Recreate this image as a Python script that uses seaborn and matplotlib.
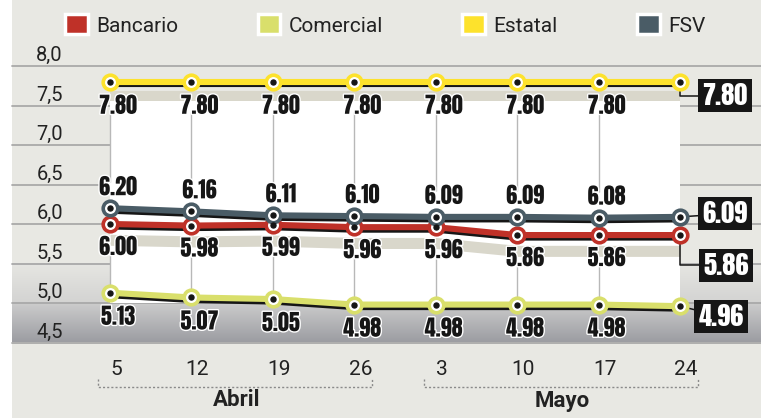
import matplotlib
matplotlib.use('Agg')
import matplotlib.pyplot as plt
import matplotlib.patheffects as pe
from matplotlib.patches import Patch
from matplotlib.colors import to_rgb
from matplotlib.transforms import ScaledTranslation
import numpy as np
import pandas as pd
import seaborn as sns

# Datos (tasas por semana)
dias = ['5', '12', '19', '26', '3', '10', '17', '24']
meses = ['Abril', 'Mayo']
semanas_por_mes = [4, 4]
bancario = [6.00, 5.98, 5.99, 5.96, 5.96, 5.86, 5.86, 5.86]
comercial = [5.13, 5.07, 5.05, 4.98, 4.98, 4.98, 4.98, 4.96]
estatal = [7.80, 7.80, 7.80, 7.80, 7.80, 7.80, 7.80, 7.80]
fsv = [6.20, 6.16, 6.11, 6.10, 6.09, 6.09, 6.08, 6.09]
series = ['Bancario', 'Comercial', 'Estatal', 'FSV']
eje_y = [8.0, 7.5, 7.0, 6.5, 6.0, 5.5, 5.0, 4.5]
eje_y_txt = ['8,0', '7,5', '7,0', '6,5', '6,0', '5,5', '5,0', '4,5']

colores = {'Bancario': '#bf3128', 'Comercial': '#d9df6b',
           'Estatal': '#fde22c', 'FSV': '#4a5c66'}
BG = '#e8e8e3'
NEGRO = '#161616'
GRIS_TXT = '#222222'

sns.set_style('white')
plt.rcParams['font.family'] = ['Roboto', 'DejaVu Sans']
CIFRAS = ['Anton', 'DejaVu Sans']

# escala en pixeles de la figura
W, H = 761, 418
X0, DX = 110, 81.43
Y8, DY = 66, 79
xlim = (-X0 / DX, (W - X0) / DX)
ylim = (8 - (H - Y8) / DY, 8 + Y8 / DY)
x_borde = (12 - X0) / DX

df = pd.DataFrame({
    'x': list(range(len(dias))) * 4,
    'valor': bancario + comercial + estatal + fsv,
    'serie': np.repeat(series, len(dias)),
})
x = np.arange(len(dias))
valores = {'Bancario': np.array(bancario), 'Comercial': np.array(comercial),
           'Estatal': np.array(estatal), 'FSV': np.array(fsv)}

fig = plt.figure(figsize=(W / 100, H / 100), dpi=100, facecolor=BG)
ax = fig.add_axes([0, 0, 1, 1])
ax.set_facecolor(BG)

# franja blanca izquierda
ax.axvspan(xlim[0], x_borde, color='white', lw=0, zorder=1)


def gradiente(y_top, y_bot, c_top, c_bot):
    arr = np.linspace(to_rgb(c_top), to_rgb(c_bot), 60)[:, None, :]
    ax.imshow(arr, extent=(x_borde, xlim[1], y_bot, y_top), aspect='auto',
              zorder=1, interpolation='bilinear')


gradiente(5.5, 5.0, '#e6e6e2', '#d3d3d2')
gradiente(5.0, 4.5, '#cdcdcd', '#9c9da2')

for y in eje_y:
    ax.axhline(y, xmin=12 / W, xmax=1, color='#a9a9a9', lw=1.3, zorder=2)

# panel blanco y sombras beige
ax.fill_between(x, 5.0, valores['Estatal'] - 0.24, color='white', lw=0, zorder=3)
ax.fill_between(x, valores['Estatal'] - 0.12, valores['Estatal'] - 0.24,
                color='#d9d7cb', lw=0, zorder=4)
ax.fill_between(x, valores['Bancario'] - 0.13, valores['Bancario'] - 0.27,
                color='#d9d7cb', lw=0, zorder=4)

# lineas verticales guia
ax.vlines(x[:-1], valores['FSV'][:-1] + 0.33, valores['Estatal'][:-1] - 0.38,
          color='#b8b8b8', lw=1, zorder=5)
ax.vlines(x[:-1], valores['Comercial'][:-1] + 0.1, valores['Bancario'][:-1] - 0.37,
          color='#b8b8b8', lw=1, zorder=5)

# sombra negra de las lineas
sombra = ax.transData + ScaledTranslation(0, -2.5 / 100, fig.dpi_scale_trans)
for s in series:
    ax.plot(x, valores[s], color=NEGRO, lw=4.4, transform=sombra, zorder=6,
            solid_capstyle='butt')

sns.lineplot(data=df, x='x', y='valor', hue='serie', palette=colores,
             linewidth=4.4, legend=False, ax=ax, zorder=7, sort=False)

for s in series:
    ax.plot(x, valores[s], 'o', ms=10.5, mfc='white', mec=colores[s], mew=2.6, zorder=8)
    ax.plot(x, valores[s], 'o', ms=3.6, color=NEGRO, zorder=9)

# etiquetas de valores
desplaz = {'Bancario': -23, 'Comercial': -24, 'Estatal': -24, 'FSV': 21}
halo = [pe.withStroke(linewidth=2, foreground='white')]
for s in series:
    for i, v in enumerate(valores[s][:-1]):
        ax.annotate(f'{v:.2f}', (i, v), xytext=(8, desplaz[s]),
                    textcoords='offset pixels', ha='center', va='center',
                    fontsize=16, family=CIFRAS, color=NEGRO,
                    path_effects=halo, zorder=10)

# cajas con el ultimo valor
cajas = {'Estatal': ((45, -14), 'angle,angleA=0,angleB=90,rad=0'),
         'FSV': ((45, 3), 'arc3'),
         'Bancario': ((46, -30), 'angle,angleA=0,angleB=90,rad=0'),
         'Comercial': ((41, -10), 'arc3')}
ult = len(dias) - 1
for s, (off, con) in cajas.items():
    v = valores[s][ult]
    ax.annotate(f'{v:.2f}', (ult, v), xytext=off, textcoords='offset pixels',
                ha='center', va='center', fontsize=19, family=CIFRAS,
                color='white',
                bbox=dict(boxstyle='square,pad=0.15', fc=NEGRO, ec='none'),
                arrowprops=dict(arrowstyle='-', color=NEGRO, lw=1.1, shrinkA=0,
                                shrinkB=0, connectionstyle=con),
                zorder=6)

# eje y
x_lab = (63 - X0) / DX
for y, t in zip(eje_y, eje_y_txt):
    ax.annotate(t, (x_lab, y), xytext=(0, 5), textcoords='offset pixels',
                ha='right', va='baseline', fontsize=14.5, color=GRIS_TXT)

# eje x
for i, d in enumerate(dias):
    ax.annotate(d, (i, 4.5), xytext=(6, -27), textcoords='offset pixels',
                ha='center', va='center', fontsize=15, color=GRIS_TXT)

inicio = 0
y_br = 4.5 - 44 / DY
for mes, n in zip(meses, semanas_por_mes):
    fin = inicio + n - 1
    x0, x1 = inicio - 0.15, fin + 0.22
    ax.plot([x0, x0, x1, x1], [y_br + 8 / DY, y_br, y_br, y_br + 8 / DY],
            ls=(0, (1.5, 1.5)), color='#8a8a8a', lw=1, zorder=2)
    ax.text((inicio + fin) / 2 + 0.05, 4.5 - 58 / DY, mes, ha='center',
            va='center', fontsize=16, fontweight='bold', color=GRIS_TXT)
    inicio = fin + 1

# leyenda
manijas = [Patch(facecolor=colores[s], edgecolor='white', lw=2.5, label=s) for s in series]
leg = fig.legend(handles=manijas, loc='center left',
                 bbox_to_anchor=(65 / W, 1 - 25 / H), ncol=4, frameon=False,
                 fontsize=15, handlelength=1.1, handleheight=1.1,
                 handletextpad=0.4, columnspacing=3.8, borderaxespad=0,
                 borderpad=0)
for t in leg.get_texts():
    t.set_color(GRIS_TXT)

ax.set_xlim(xlim)
ax.set_ylim(ylim)
ax.set_axis_off()

fig.savefig('out.png', dpi=100, facecolor=BG)
